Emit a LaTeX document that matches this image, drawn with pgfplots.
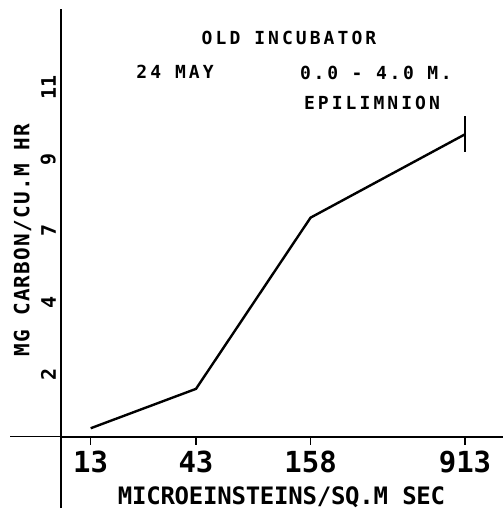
\documentclass[border=0pt]{standalone}
\usepackage{pgfplots}
\pgfplotsset{compat=1.18}
\usepackage{fontspec}
\setmainfont{DejaVu Sans Mono}
\newcommand\fs[2]{\fontsize{#1}{#1}\selectfont\bfseries\addfontfeature{LetterSpace=#2}}
\begin{document}
\begin{tikzpicture}[x=1pt,y=1pt]
\useasboundingbox (0,0) rectangle (503,513);
\begin{axis}[
  at={(61pt,5pt)}, anchor=south west,
  scale only axis, width=442pt, height=499pt,
  xmode=log, xmin=9.28, xmax=1406, ymin=-2.19, ymax=13.14,
  axis x line=middle, axis y line=left,
  x axis line style={-, line width=2.4pt},
  y axis line style={-, line width=1.2pt},
  tick align=outside, major tick length=8pt,
  xtick={13,43,158,913}, xticklabels={13,43,158,913},
  ytick={2.2,4.4,6.6,8.8,11}, yticklabels={2,4,7,9,11},
  xminorticks=false, yminorticks=false,
  xtick style={line width=1.2pt, black},
  ytick style={draw=none},
  xticklabel style={font=\fs{29}{0}, inner sep=0pt, yshift=-6pt},
  yticklabel style={font=\fs{20}{0}, inner sep=0pt, yshift=-9pt, xshift=3pt, rotate=90, anchor=south},
  clip=false,
]
\addplot[black, line width=2.4pt, mark=none,
  error bars/.cd, y dir=both, y explicit, error mark=none,
  error bar style={line width=1.6pt}]
  coordinates {(13,0.26) (43,1.47) (158,6.73) (913,9.29) +- (0,0.55)};
\end{axis}
\draw[line width=1.2pt] (10,76.3) -- (61,76.3);
\node at (289,475) {\fs{18}{17}OLD INCUBATOR};
\node at (175,441) {\fs{18}{17}24 MAY};
\node at (376,440) {\fs{18}{15}0.0 - 4.0 M.};
\node at (372,410) {\fs{18}{17}EPILIMNION};
\node at (281.5,16) {\fs{24}{-1}MICROEINSTEINS/SQ.M SEC};
\node[rotate=90] at (22.5,273) {\fs{21}{6}MG CARBON/CU.M HR};
\end{tikzpicture}
\end{document}
